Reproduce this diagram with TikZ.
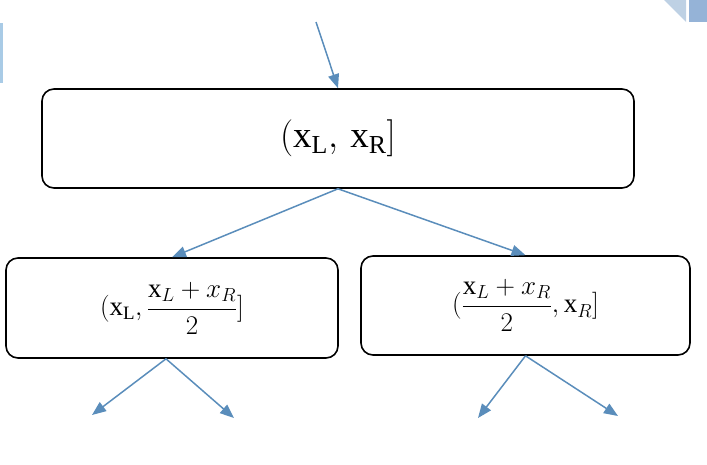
\RequirePackage{fix-cm}
\documentclass[tikz,border=0pt]{standalone}
\usepackage{fontspec}
\setmainfont{Liberation Serif}
\usetikzlibrary{arrows.meta}
\definecolor{arrowblue}{HTML}{5A8DBB}
\definecolor{lightbar}{HTML}{A9CBE6}
\definecolor{cornerlight}{HTML}{BED1E4}
\definecolor{cornerdark}{HTML}{95B3D7}
\tikzset{
  interval/.style={draw=black, line width=1.6pt, rounded corners=12pt},
  split/.style={draw=arrowblue, line width=1.5pt, -{Triangle[length=14pt,width=11pt]}}
}
\begin{document}
\begin{tikzpicture}[x=1pt,y=-1pt]
                \useasboundingbox (0,0) rectangle (707,464);
                % Slide decorations
                \fill[lightbar] (0,23) rectangle (3,83);
                \fill[cornerlight] (664,0) -- (686,22) -- (686,0) -- cycle;
                \fill[cornerdark] (689,0) rectangle (707,22);
                % Interval boxes
                \node[interval, minimum width=592pt, minimum height=99pt] (whole) at (338,138.5)
                    {\fontsize{37}{44}\selectfont $(\mathrm{x}_{\mathrm{L}},\,\mathrm{x}_{\mathrm{R}}]$\hspace{14pt}};
                \node[interval, minimum width=332pt, minimum height=100pt] (lefthalf) at (172,308)
                    {\fontsize{27}{32}\selectfont $(\mathrm{x}_{\mathrm{L}},\displaystyle\frac{\mathrm{x}_L+x_R}{2}]$};
                \node[interval, minimum width=329pt, minimum height=99pt] (righthalf) at (525.5,305.5)
                    {\fontsize{27}{32}\selectfont $(\displaystyle\frac{\mathrm{x}_L+x_R}{2},\mathrm{x}_R]$};
                % Free ends
                \coordinate (entry) at (316,22);
                \coordinate (ll) at (92,415);
                \coordinate (lr) at (234,418);
                \coordinate (rl) at (478,418);
                \coordinate (rr) at (618,416);
                % Splitting arrows
                \draw[split] (entry) -- (whole.north);
                \draw[split] (whole.south) -- (lefthalf.north);
                \draw[split] (whole.south) -- (righthalf.north);
                \draw[split] ([xshift=-6pt]lefthalf.south) -- (ll);
                \draw[split] ([xshift=-6pt]lefthalf.south) -- (lr);
                \draw[split] (righthalf.south) -- (rl);
                \draw[split] (righthalf.south) -- (rr);
            \end{tikzpicture}
\end{document}
